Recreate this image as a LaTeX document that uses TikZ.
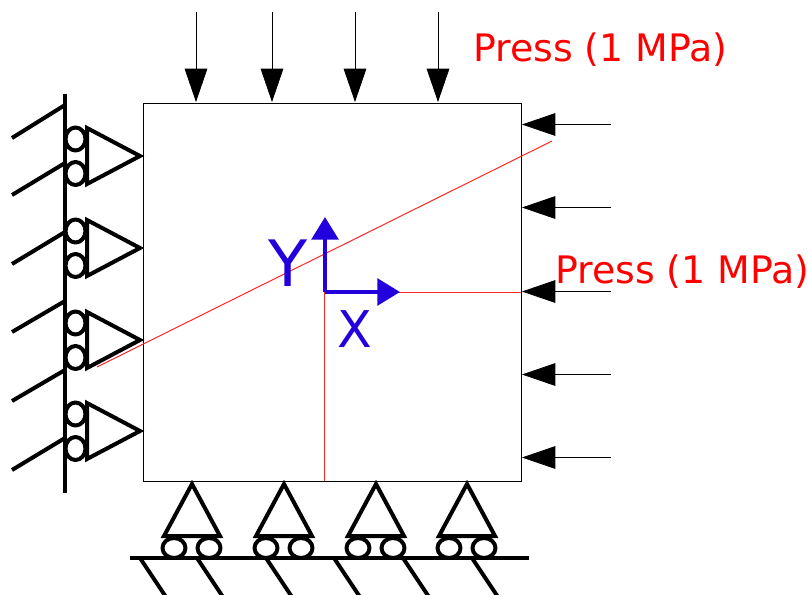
\documentclass[tikz,border=0pt]{standalone}
\usepackage{fontspec}
\setmainfont{DejaVu Sans}
\usepackage{xcolor}
\usetikzlibrary{arrows.meta}

\definecolor{axisblue}{HTML}{2200DD}

\tikzset{
    support/.style={line width=3pt, line join=round, line cap=round},
    load/.style={line width=0.6pt, -{Triangle[length=25pt, width=17pt]}},
    axis/.style={line width=3pt, axisblue, -{Triangle[length=17pt, width=20pt]}},
    cut/.style={line width=0.75pt, red!85!white},
    presslabel/.style={red, anchor=base west, inner sep=0pt, font=\fontsize{28.4pt}{30pt}\selectfont},
}

\begin{document}
\begin{tikzpicture}[x=0.75pt, y=-0.75pt]
    \useasboundingbox (0, 0) rectangle (808, 594);

    % plate
    \draw[line width=0.6pt] (143, 103) rectangle (521, 481);

    % cut lines
    \coordinate (origin) at (325, 292);
    \coordinate (cutA) at (97, 367);
    \coordinate (cutB) at (552, 141);
    \coordinate (cutC) at (324.6, 481);
    \coordinate (cutE) at (324.6, 292);
    \coordinate (cutD) at (521, 292);
    \draw[cut] (cutA) -- (cutB);
    \draw[cut] (cutE) -- (cutC);
    \draw[cut] (origin) -- (cutD);

    % press from above
    \foreach \x in {196, 272, 355, 438} {
        \coordinate (topstart\x) at (\x, 12);
        \coordinate (topend\x) at (\x, 102);
        \draw[load] (topstart\x) -- (topend\x);
    }

    % press from the right
    \foreach \y in {125, 208, 292, 375, 458} {
        \coordinate (rightstart\y) at (611, \y-0.5);
        \coordinate (rightend\y) at (522, \y-0.5);
        \draw[load] (rightstart\y) -- (rightend\y);
    }

    % left wall
    \coordinate (wallA) at (65, 94);
    \coordinate (wallB) at (65, 493);
    \draw[support, line cap=butt] (wallA) -- (wallB);
    \foreach \a/\b in {105/138, 163/195, 232/264, 301/332, 370/401, 438/470} {
        \coordinate (hatchA\a) at (65, \a);
        \coordinate (hatchB\a) at (12, \b);
        \draw[support, line cap=butt] (hatchA\a) -- (hatchB\a);
    }

    % left supports
    \foreach \y in {0, 92, 184, 275} {
        \draw[support] (75.5, 139+\y) ellipse (10 and 11.5);
        \draw[support] (75.5, 173.5+\y) ellipse (10 and 11.5);
        \draw[support, line join=miter] (87, 128+\y) -- (140, 156+\y) -- (87, 184+\y) -- cycle;
    }

    % floor
    \coordinate (floorA) at (130, 558);
    \coordinate (floorB) at (529, 558);
    \draw[support, line cap=butt] (floorA) -- (floorB);
    \foreach \x in {140, 197, 266, 334, 403, 472} {
        \coordinate (floorhatchA\x) at (\x, 558);
        \coordinate (floorhatchB\x) at (\x+28, 600);
        \draw[support, line cap=butt] (floorhatchA\x) -- (floorhatchB\x);
    }

    % bottom supports
    \foreach \x in {0, 92, 184, 275} {
        \draw[support] (174+\x, 548) ellipse (11.5 and 10);
        \draw[support] (209+\x, 548) ellipse (11.5 and 10);
        \draw[support, line join=miter] (164+\x, 536) -- (192+\x, 484) -- (220+\x, 536) -- cycle;
    }

    % axes
    \coordinate (xtip) at (400, 292);
    \coordinate (ytip) at (325, 217);
    \draw[axis] (origin) -- (xtip);
    \draw[axis] (origin) -- (ytip);
    \node[axisblue, inner sep=0pt, font=\fontsize{48pt}{50pt}\selectfont] (ylabel) at (288, 263) {Y};
    \node[axisblue, inner sep=0pt, font=\fontsize{38pt}{40pt}\selectfont] (xlabel) at (355, 329) {X};

    % labels
    \node[presslabel] (pressA) at (473, 61) {Press (1 MPa)};
    \node[presslabel] (pressB) at (555, 283) {Press (1 MPa)};
\end{tikzpicture}
\end{document}
